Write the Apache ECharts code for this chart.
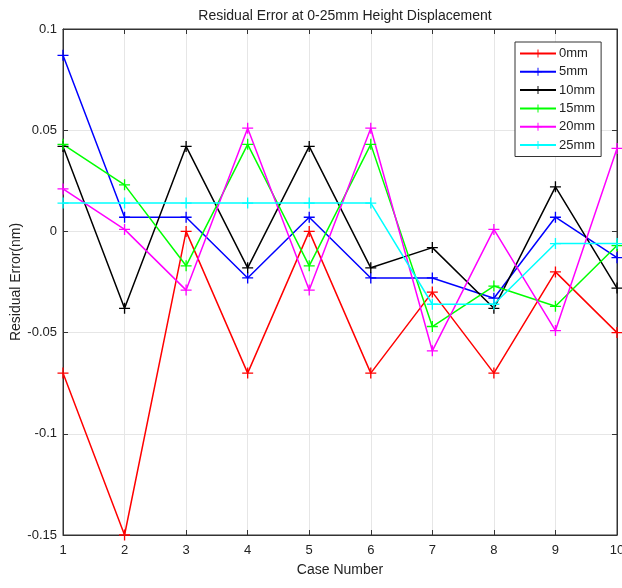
<!DOCTYPE html>
<html>
<head>
<meta charset="utf-8">
<script src="https://cdn.jsdelivr.net/npm/echarts@6/dist/echarts.min.js"></script>
<style>html,body{margin:0;padding:0;background:#fff}#c{width:622px;height:588px}</style>
</head>
<body>
<div id="c"></div>
<script>
const cases = [1, 2, 3, 4, 5, 6, 7, 8, 9, 10];
const seriesNames = ['0mm', '5mm', '10mm', '15mm', '20mm', '25mm'];
const s0mm  = [-0.07, -0.15, 0, -0.07, 0, -0.07, -0.03, -0.07, -0.02, -0.05];
const s5mm  = [0.087, 0.007, 0.007, -0.023, 0.007, -0.023, -0.023, -0.033, 0.007, -0.013];
const s10mm = [0.042, -0.038, 0.042, -0.018, 0.042, -0.018, -0.008, -0.038, 0.022, -0.028];
const s15mm = [0.043, 0.023, -0.017, 0.043, -0.017, 0.043, -0.047, -0.027, -0.037, -0.007];
const s20mm = [0.021, 0.001, -0.029, 0.051, -0.029, 0.051, -0.059, 0.001, -0.049, 0.041];
const s25mm = [0.014, 0.014, 0.014, 0.014, 0.014, 0.014, -0.036, -0.036, -0.006, -0.006];
const yTicks = [-0.15, -0.1, -0.05, 0, 0.05, 0.1];
const yTickLabels = ['-0.15', '-0.1', '-0.05', '0', '0.05', '0.1'];

const allValues = [s0mm, s5mm, s10mm, s15mm, s20mm, s25mm];
const colors = ['#ff0000', '#0000ff', '#000000', '#00ff00', '#ff00ff', '#00ffff'];
const plus = 'path://M4.4,0H5.6V4.4H10V5.6H5.6V10H4.4V5.6H0V4.4H4.4Z';
const font = 'Liberation Sans, Arial, Helvetica, sans-serif';

const chart = echarts.init(document.getElementById('c'), null, {renderer: 'canvas'});
const series = seriesNames.map((n, i) => ({
  name: n,
  type: 'line',
  data: cases.map((c, j) => [c, allValues[i][j]]),
  symbol: plus,
  symbolSize: 11,
  showSymbol: true,
  lineStyle: {color: colors[i], width: 1.5},
  itemStyle: {color: colors[i]},
  animation: false
}));

const gridLine = {show: true, lineStyle: {color: '#e6e6e6', width: 1}};
chart.setOption({
  backgroundColor: '#fff',
  animation: false,
  title: {
    text: 'Residual Error at 0-25mm Height Displacement',
    left: 340, top: 4, textAlign: 'center',
    textStyle: {fontFamily: font, fontSize: 14, fontWeight: 'normal', color: '#222'}
  },
  legend: {
    data: seriesNames,
    orient: 'vertical',
    left: 515, top: 42,
    itemWidth: 36, itemHeight: 10, itemGap: 5.3,
    padding: [5, 6, 5, 4],
    borderColor: '#333', borderWidth: 1, backgroundColor: '#fff',
    textStyle: {fontFamily: font, fontSize: 13, color: '#222', padding: [0, 0, 0, -2]}
  },
  grid: {left: 63, right: 5, top: 29, bottom: 53, show: true, borderColor: '#333', borderWidth: 1,
         containLabel: false, outerBoundsMode: 'none'},
  xAxis: [{
    type: 'value', min: 1, max: 10, interval: 1,
    name: 'Case Number', nameLocation: 'middle', nameGap: 28, nameMoveOverlap: false,
    nameTextStyle: {fontFamily: font, fontSize: 14, color: '#222'},
    axisLine: {show: true, onZero: false, lineStyle: {color: '#333'}},
    axisTick: {show: true, inside: true, length: 5, lineStyle: {color: '#333'}},
    axisLabel: {fontFamily: font, fontSize: 13, color: '#222', margin: 9},
    splitLine: gridLine
  }, {
    type: 'value', min: 1, max: 10, interval: 1, position: 'top',
    axisLine: {show: true, onZero: false, lineStyle: {color: '#333'}},
    axisTick: {show: true, inside: true, length: 5, lineStyle: {color: '#333'}},
    axisLabel: {show: false}, splitLine: {show: false}
  }],
  yAxis: [{
    type: 'value', min: -0.15, max: 0.1, interval: 0.05,
    name: 'Residual Error(nm)', nameLocation: 'middle', nameGap: 40, nameMoveOverlap: false,
    nameTextStyle: {fontFamily: font, fontSize: 14, color: '#222'},
    axisLine: {show: true, onZero: false, lineStyle: {color: '#333'}},
    axisTick: {show: true, inside: true, length: 5, lineStyle: {color: '#333'}},
    axisLabel: {
      fontFamily: font, fontSize: 13, color: '#222', margin: 6,
      formatter: v => {
        let best = 0;
        yTicks.forEach((t, k) => { if (Math.abs(t - v) < Math.abs(yTicks[best] - v)) best = k; });
        return yTickLabels[best];
      }
    },
    splitLine: gridLine
  }, {
    type: 'value', min: -0.15, max: 0.1, interval: 0.05, position: 'right',
    axisLine: {show: true, onZero: false, lineStyle: {color: '#333'}},
    axisTick: {show: true, inside: true, length: 5, lineStyle: {color: '#333'}},
    axisLabel: {show: false}, splitLine: {show: false}
  }],
  series: series
});
</script>
</body>
</html>
